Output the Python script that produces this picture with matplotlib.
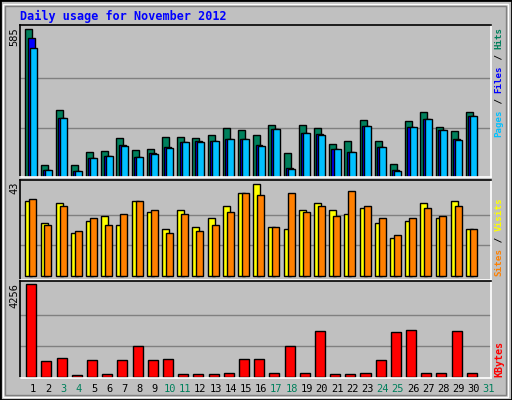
import matplotlib
matplotlib.use("Agg")
import matplotlib.pyplot as plt
import numpy as np
from matplotlib.patches import Rectangle

days = list(range(1, 32))
weekend_days = [3, 4, 10, 11, 17, 18, 24, 25, 31]
hits = [585, 46, 266, 46, 98, 102, 154, 106, 110, 158, 158, 154, 166, 194, 186, 166, 206, 94, 206, 194, 130, 142, 226, 142, 51, 222, 258, 198, 182, 258]
files = [549, 27, 234, 23, 74, 82, 126, 78, 94, 118, 138, 142, 142, 150, 150, 126, 190, 35, 174, 170, 110, 98, 202, 118, 27, 198, 230, 186, 150, 242]
pages = [509, 27, 234, 23, 74, 82, 122, 78, 90, 114, 138, 138, 142, 150, 150, 122, 190, 31, 174, 166, 110, 98, 202, 118, 23, 198, 230, 186, 146, 242]
visits = [35, 25, 34, 20, 26, 28, 24, 35, 30, 22, 31, 23, 27, 33, 39, 43, 23, 22, 31, 34, 31, 29, 32, 25, 18, 26, 34, 27, 35, 22]
sites = [36, 24, 33, 21, 27, 24, 29, 35, 31, 20, 29, 21, 24, 30, 39, 38, 23, 39, 30, 33, 28, 40, 33, 27, 19, 27, 32, 28, 33, 22]
kbytes = [4256, 714, 854, 62, 761, 109, 761, 1413, 761, 808, 109, 109, 109, 155, 808, 808, 155, 1413, 155, 2112, 109, 109, 155, 761, 2066, 2159, 155, 155, 2112, 155]

BG = "#C0C0C0"
W, H = 512, 400
fig = plt.figure(figsize=(5.12, 4.0), dpi=100, facecolor=BG)

fig.patches.append(Rectangle((0, 0), 1, 1, transform=fig.transFigure, fill=False, ec="black", lw=2))
fig.patches.append(Rectangle((3/W, 3/H), 1-7/W, 1-7/H, transform=fig.transFigure, fill=False, ec="white", lw=1))
fig.patches.append(Rectangle((5/W, 5/H), 1-11/W, 1-11/H, transform=fig.transFigure, fill=False, ec="#808080", lw=1))

MONO = "DejaVu Sans Mono"

def mkax(top, bottom):
    ax = fig.add_axes([20/W, 1-bottom/H, 471/W, (bottom-top)/H])
    ax.set_facecolor(BG)
    ax.set_xlim(0, 31)
    ax.set_xticks([]); ax.set_yticks([])
    for s in ["top", "left"]:
        ax.spines[s].set_color("black")
    for s in ["bottom", "right"]:
        ax.spines[s].set_color("white")
    for s in ax.spines.values():
        s.set_linewidth(1.2)
    return ax

x = np.arange(len(hits))
ek = dict(edgecolor="black", linewidth=1.0, align="edge", width=0.46)

ax1 = mkax(25, 177)
ax1.set_ylim(0, 585 * 151 / 147)
for g in [195, 390]:
    ax1.axhline(g, color="#808080", lw=1, zorder=0)
ax1.bar(x + 0.35, hits, color="#00805C", **ek)
ax1.bar(x + 0.50, files, color="#0000FF", **ek)
ax1.bar(x + 0.64, pages, color="#00C0FF", **ek)

ax2 = mkax(180, 280)
per = 43 / 92
ax2.set_ylim(-4 * per, 43 + 4.3 * per)
for g in [43/3, 86/3]:
    ax2.axhline(g, color="#808080", lw=1, zorder=0)
ax2.bar(x + 0.35, visits, color="#FFFF00", **ek)
ax2.bar(x + 0.61, sites, color="#FF8000", **ek)

ax3 = mkax(281, 378)
per3 = 4256 / (376.7 - 284.3)
ax3.set_ylim(-1.3 * per3, 4256 + 3.3 * per3)
for g in [4256/3, 2*4256/3]:
    ax3.axhline(g, color="#808080", lw=1, zorder=0)
ax3.bar(x + 0.41, kbytes, color="#FF0000", edgecolor="black", linewidth=1.0, align="edge", width=0.66)

def fx(px): return px / W
def fy(py): return 1 - py / H

fig.text(fx(20), fy(16), "Daily usage for November 2012", color="#0000FF",
         family=MONO, fontweight="bold", fontsize=8.5, va="center", ha="left")

for val, ytop in [("585", 27), ("43", 181), ("4256", 283)]:
    fig.text(fx(14), fy(ytop), val, rotation=90, rotation_mode="anchor",
             ha="right", va="center", family=MONO, fontsize=7.5, color="black")

def vlabel(pieces, ystart, fs=7.2, xpx=499):
    step = 0.602 * fs * 100 / 72
    y = ystart
    for txt, col in pieces:
        fig.text(fx(xpx), fy(y), txt, rotation=90, rotation_mode="anchor",
                 ha="left", va="center", family=MONO, fontsize=fs, color=col,
                 fontweight="bold")
        y -= step * len(txt)

vlabel([("Pages", "#00C0FF"), (" / ", "black"), ("Files", "#0000FF"),
        (" / ", "black"), ("Hits", "#00805C")], 137, fs=6.6)
vlabel([("Sites", "#FF8000"), (" / ", "black"), ("Visits", "#FFFF00")], 276, fs=6.7)
vlabel([("KBytes", "#FF0000")], 377, fs=7.2)

for d in days:
    col = "#00805C" if d in weekend_days else "black"
    xp = 20 + (d - 1 + 0.87) * 471 / 31
    fig.text(fx(xp), fy(389), str(d), ha="center", va="center",
             family=MONO, fontsize=7.5, color=col)

fig.savefig("out.png", dpi=100, facecolor=BG)
